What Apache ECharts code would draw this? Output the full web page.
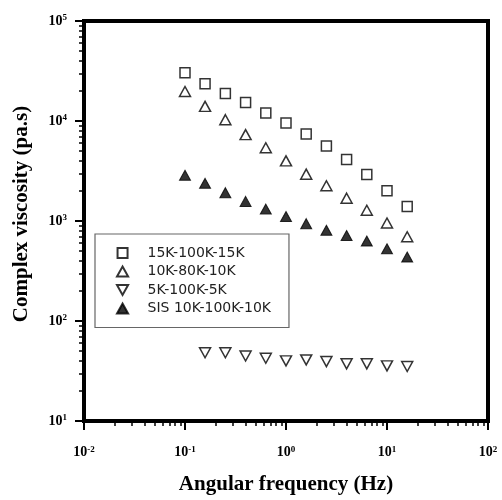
<!DOCTYPE html>
<html>
<head>
<meta charset="utf-8">
<script src="https://cdn.jsdelivr.net/npm/echarts@6/dist/echarts.min.js"></script>
<style>html,body{margin:0;padding:0;background:#fff}#c{width:502px;height:500px}</style>
</head>
<body>
<div id="c"></div>
<script>
// ---- data ----
const xFreq = [0.1, 0.158, 0.251, 0.398, 0.631, 1, 1.585, 2.512, 3.981, 6.31, 10, 15.85];
const s15K100K15K = [30300, 23600, 18800, 15300, 12000, 9550, 7430, 5610, 4110, 2920, 2010, 1400];
const s10K80K10K = [19700, 14000, 10300, 7310, 5400, 3990, 2940, 2250, 1690, 1280, 955, 695];
const s5K100K5K = [null, 48.2, 48.2, 44.7, 42.4, 39.9, 40.8, 39.3, 37.3, 37.3, 35.6, 35.1];
const sSIS = [2870, 2380, 1920, 1570, 1315, 1110, 940, 809, 716, 630, 528, 437];
const seriesNames = ['15K-100K-15K', '10K-80K-10K', '5K-100K-5K', 'SIS 10K-100K-10K'];
const xExp = ['-2', '-1', '0', '1', '2'];
const yExp = ['1', '2', '3', '4', '5'];
const xTitle = 'Angular frequency (Hz)';
const yTitle = 'Complex viscosity (pa.s)';

function pairs(ys) {
  const out = [];
  ys.forEach((y, i) => { if (y != null) out.push([xFreq[i], y]); });
  return out;
}
// minor tick positions (log-space), one decade pattern 2..9
const minorSteps = [2, 3, 4, 5, 6, 7, 8, 9];
function minorPositions(lo, hi) {
  const r = [];
  for (let d = lo; d < hi; d++) minorSteps.forEach(k => r.push(d + Math.log10(k)));
  return r;
}

const serif = '"Liberation Serif", "DejaVu Serif", serif';
const richLabels = {
  b: { fontFamily: serif, fontWeight: 'bold', fontSize: 14, color: '#000', lineHeight: 15 },
  s: { fontFamily: serif, fontWeight: 'bold', fontSize: 9, color: '#000', verticalAlign: 'top', lineHeight: 9 }
};

const chart = echarts.init(document.getElementById('c'), null, { renderer: 'canvas' });
const openStyle = { color: '#fff', borderColor: '#000', borderWidth: 1.5 };
const squareSym = 'path://M0,0L10,0L10,10L0,10Z';
const upTri = 'path://M5,0L10,9L0,9Z';
const downTri = 'path://M0,0L10,0L5,9Z';

chart.setOption({
  animation: false,
  backgroundColor: '#fff',
  grid: {
    left: 84, top: 21, right: 14, bottom: 75,
    show: true, borderColor: '#000', borderWidth: 4, backgroundColor: 'transparent'
  },
  legend: {
    orient: 'vertical',
    left: 95, top: 234,
    padding: [12, 18, 12, 21],
    itemWidth: 40, itemHeight: 10, itemGap: 4.5,
    symbolKeepAspect: true,
    borderColor: '#666', borderWidth: 1.2,
    textStyle: { fontFamily: '"DejaVu Sans", sans-serif', fontSize: 14, color: '#222' },
    data: [
      { name: seriesNames[0], icon: squareSym },
      { name: seriesNames[1], icon: upTri },
      { name: seriesNames[2], icon: downTri },
      { name: seriesNames[3], icon: upTri }
    ]
  },
  xAxis: [{
    type: 'log', logBase: 10, min: 0.01, max: 100,
    position: 'bottom',
    name: xTitle, nameLocation: 'middle', nameGap: 53,
    nameTextStyle: { fontFamily: serif, fontWeight: 'bold', fontSize: 21, color: '#000' },
    axisLine: { show: true, onZero: false, lineStyle: { color: '#000', width: 4 } },
    axisTick: { show: true, inside: false, length: 9, lineStyle: { color: '#000', width: 2 } },
    axisLabel: {
      margin: 24,
      formatter: v => '{b|10}{s|' + xExp[Math.round(Math.log10(v)) + 2] + '}',
      rich: richLabels
    },
    splitLine: { show: false }, minorTick: { show: false }
  }, {
    type: 'value', min: -2, max: 2, position: 'bottom',
    axisLine: { show: false, onZero: false },
    axisTick: { show: true, inside: false, length: 5, customValues: minorPositions(-2, 2), lineStyle: { color: '#000', width: 1.5 } },
    axisLabel: { show: false }, splitLine: { show: false }
  }],
  yAxis: [{
    type: 'log', logBase: 10, min: 10, max: 100000,
    position: 'left',
    name: yTitle, nameLocation: 'middle', nameGap: 52,
    nameTextStyle: { fontFamily: serif, fontWeight: 'bold', fontSize: 21, color: '#000', padding: [0, 0, 0, 14] },
    axisLine: { show: true, onZero: false, lineStyle: { color: '#000', width: 4 } },
    axisTick: { show: true, inside: false, length: 9, lineStyle: { color: '#000', width: 2 } },
    axisLabel: {
      margin: 17,
      formatter: v => '{b|10}{s|' + yExp[Math.round(Math.log10(v)) - 1] + '}',
      rich: richLabels
    },
    splitLine: { show: false }, minorTick: { show: false }
  }, {
    type: 'value', min: 1, max: 5, position: 'left',
    axisLine: { show: false, onZero: false },
    axisTick: { show: true, inside: false, length: 5, customValues: minorPositions(1, 5), lineStyle: { color: '#000', width: 1.5 } },
    axisLabel: { show: false }, splitLine: { show: false }
  }],
  series: [{
    name: seriesNames[0], type: 'scatter', xAxisIndex: 0, yAxisIndex: 0,
    symbol: squareSym, symbolSize: 10, itemStyle: openStyle,
    data: pairs(s15K100K15K)
  }, {
    name: seriesNames[1], type: 'scatter', xAxisIndex: 0, yAxisIndex: 0,
    symbol: upTri, symbolSize: [11, 10], itemStyle: openStyle,
    data: pairs(s10K80K10K)
  }, {
    name: seriesNames[2], type: 'scatter', xAxisIndex: 0, yAxisIndex: 0,
    symbol: downTri, symbolSize: [11, 10], itemStyle: openStyle,
    data: pairs(s5K100K5K)
  }, {
    name: seriesNames[3], type: 'scatter', xAxisIndex: 0, yAxisIndex: 0,
    symbol: upTri, symbolSize: [11, 10], itemStyle: { color: '#000', borderColor: '#000', borderWidth: 1 },
    data: pairs(sSIS)
  }]
});
</script>
</body>
</html>
